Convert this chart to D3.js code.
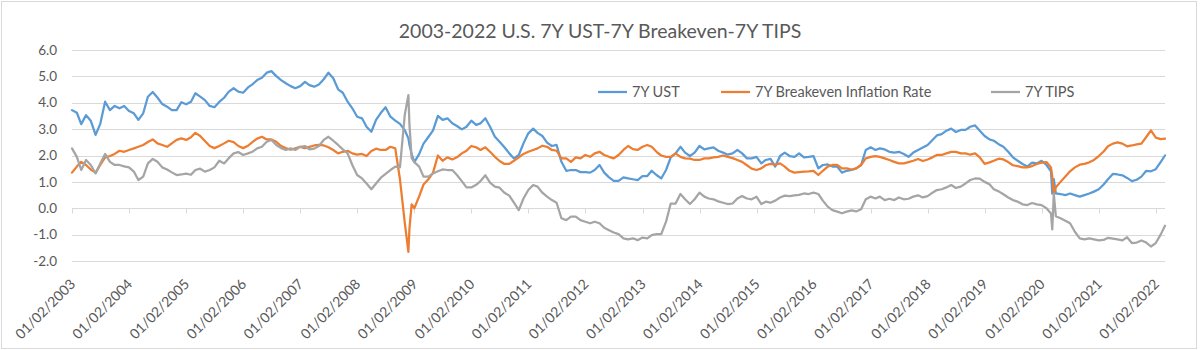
<!DOCTYPE html>
<html><head><meta charset="utf-8">
<script src="https://cdn.jsdelivr.net/npm/d3@7"></script>
<style>
html,body{margin:0;padding:0;background:#fff;}
svg{display:block;font-family:Lato,"Liberation Sans",sans-serif;}
</style></head><body>
<svg id="chart" width="1200" height="350"></svg>
<script>
const chartTitle = "2003-2022 U.S. 7Y UST-7Y Breakeven-7Y TIPS";
const seriesNames = ["7Y UST", "7Y Breakeven Inflation Rate", "7Y TIPS"];
const seriesColors = ["#5B9BD5", "#ED7D31", "#A5A5A5"];
const firstMonth = "2003-01-01";
const lastMonth = "2022-03-01";
const yTicks = [-2, -1, 0, 1, 2, 3, 4, 5, 6];
const xTickLabels = ["01/02/2003","01/02/2004","01/02/2005","01/02/2006","01/02/2007","01/02/2008","01/02/2009","01/02/2010","01/02/2011","01/02/2012","01/02/2013","01/02/2014","01/02/2015","01/02/2016","01/02/2017","01/02/2018","01/02/2019","01/02/2020","01/02/2021","01/02/2022"];

// monthly readings, Jan 2003 .. Mar 2022
const ust = [3.72,3.62,3.19,3.53,3.32,2.78,3.2,4.04,3.72,3.88,
3.79,3.88,3.69,3.60,3.35,3.60,4.23,4.41,4.20,3.95,
3.85,3.72,3.72,4.02,3.94,4.04,4.36,4.23,4.10,3.88,
3.83,4.03,4.19,4.42,4.55,4.42,4.38,4.58,4.70,4.86,
4.95,5.14,5.20,5.01,4.86,4.74,4.63,4.55,4.63,4.79,
4.67,4.61,4.69,4.89,5.14,4.93,4.51,4.38,4.04,3.79,
3.47,3.41,3.09,2.90,3.35,3.62,3.83,3.47,3.32,3.2,
2.96,2.4,1.75,2.05,2.45,2.7,2.95,3.5,3.35,3.41,
3.22,3.12,2.99,3.09,3.32,3.16,3.22,3.41,3.09,2.71,
2.52,2.31,2.08,1.89,2.02,2.46,2.84,3.02,2.86,2.74,
2.49,2.36,2.40,1.76,1.42,1.45,1.45,1.37,1.37,1.35,
1.45,1.64,1.35,1.17,1.04,1.04,1.17,1.13,1.10,1.07,
1.22,1.22,1.42,1.26,1.13,1.45,1.93,2.08,2.33,2.11,
1.98,2.11,2.36,2.23,2.27,2.31,2.18,2.11,2.03,2.08,
2.21,2.08,1.89,1.89,1.95,1.70,1.83,1.87,1.58,1.98,
2.11,1.98,1.95,2.08,1.93,1.95,1.98,1.51,1.64,1.66,
1.58,1.58,1.35,1.42,1.45,1.51,1.64,2.21,2.31,2.21,
2.27,2.23,2.14,2.11,2.14,2.06,1.95,2.11,2.21,2.30,
2.40,2.59,2.76,2.81,2.94,3.02,2.89,2.97,2.97,3.09,
3.14,2.94,2.74,2.61,2.56,2.43,2.33,2.14,1.93,1.80,
1.68,1.58,1.73,1.70,1.80,1.64,1.4,0.56,0.54,0.50,
0.56,0.50,0.44,0.50,0.56,0.63,0.72,0.9,1.1,1.3,
1.28,1.25,1.15,1.03,1.08,1.2,1.42,1.4,1.48,1.75,2.0];

const bei = [1.35,1.58,1.76,1.64,1.47,1.35,1.64,1.93,1.98,2.06,
2.18,2.14,2.21,2.27,2.33,2.40,2.51,2.61,2.46,2.40,
2.33,2.46,2.59,2.65,2.59,2.69,2.86,2.74,2.55,2.36,
2.28,2.36,2.46,2.56,2.51,2.36,2.28,2.37,2.51,2.64,
2.71,2.61,2.61,2.52,2.36,2.28,2.22,2.27,2.33,2.28,
2.33,2.38,2.40,2.38,2.31,2.21,2.08,2.14,2.18,2.08,
2.03,2.06,1.98,2.17,2.26,2.21,2.21,2.33,2.27,1.1,
-0.55,-0.75,0.0,0.45,0.9,1.1,1.35,2.0,1.80,1.93,
1.85,1.93,2.08,2.18,2.36,2.31,2.21,2.31,2.14,1.95,
1.79,1.68,1.68,1.80,1.93,2.06,2.14,2.21,2.27,2.37,
2.33,2.21,2.18,1.89,1.89,1.76,1.93,1.89,2.02,1.95,
2.08,2.14,2.02,1.95,1.89,2.02,2.21,2.36,2.24,2.21,
2.33,2.40,2.33,2.14,2.00,1.95,1.95,2.08,1.95,1.89,
1.88,1.83,1.83,1.89,1.89,1.93,1.95,2.00,1.95,1.90,
1.83,1.76,1.63,1.50,1.45,1.51,1.63,1.68,1.65,1.70,
1.58,1.42,1.35,1.37,1.39,1.40,1.42,1.26,1.42,1.58,
1.64,1.64,1.51,1.51,1.47,1.51,1.64,1.89,1.95,1.98,
1.95,1.89,1.83,1.76,1.70,1.70,1.75,1.80,1.87,1.79,
1.85,1.93,2.02,2.02,2.08,2.14,2.14,2.08,2.08,2.03,
2.08,1.93,1.68,1.74,1.80,1.88,1.85,1.75,1.63,1.60,
1.55,1.55,1.60,1.68,1.73,1.75,1.55,0.8,1.0,1.2,
1.4,1.55,1.65,1.68,1.74,1.83,1.98,2.15,2.35,2.45,
2.5,2.45,2.35,2.38,2.42,2.45,2.7,2.95,2.68,2.62,2.64];

const tips = [2.27,1.95,1.45,1.83,1.64,1.32,1.70,2.06,1.76,1.64,
1.64,1.59,1.55,1.39,1.07,1.20,1.70,1.87,1.76,1.55,
1.47,1.36,1.26,1.28,1.31,1.27,1.45,1.50,1.39,1.45,
1.55,1.80,1.70,1.90,2.08,2.13,2.02,2.08,2.14,2.27,
2.33,2.52,2.59,2.40,2.28,2.21,2.27,2.21,2.33,2.36,
2.23,2.26,2.36,2.59,2.71,2.56,2.40,2.23,2.08,1.64,
1.26,1.13,0.94,0.72,0.94,1.16,1.30,1.45,1.58,1.55,
3.55,3.15,1.75,1.58,1.2,1.2,1.32,1.4,1.47,1.45,
1.45,1.26,1.03,0.79,0.79,0.89,1.03,1.25,0.97,0.82,
0.78,0.59,0.48,0.21,-0.07,0.37,0.69,0.88,0.82,0.59,
0.44,0.31,0.21,-0.38,-0.45,-0.32,-0.32,-0.45,-0.51,-0.57,
-0.51,-0.57,-0.74,-0.83,-0.92,-0.98,-1.14,-1.18,-1.14,-1.21,
-1.11,-1.14,-1.02,-0.98,-0.98,-0.51,0.18,0.18,0.54,0.34,
0.16,0.34,0.59,0.44,0.37,0.34,0.26,0.21,0.16,0.18,
0.37,0.46,0.37,0.34,0.44,0.16,0.25,0.21,0.29,0.41,
0.48,0.46,0.49,0.51,0.56,0.54,0.59,0.54,0.29,0.06,
-0.07,-0.13,-0.19,-0.13,-0.08,-0.12,-0.04,0.34,0.44,0.37,
0.44,0.31,0.36,0.31,0.41,0.34,0.36,0.44,0.49,0.41,
0.46,0.59,0.69,0.72,0.79,0.88,0.77,0.82,0.94,1.07,
1.13,1.12,1.00,0.91,0.72,0.64,0.53,0.41,0.31,0.25,
0.15,0.12,0.2,0.15,0.12,0.0,-0.2,-0.3,-0.38,-0.47,
-0.57,-0.89,-1.14,-1.18,-1.14,-1.18,-1.22,-1.2,-1.12,-1.15,
-1.18,-1.22,-1.1,-1.32,-1.3,-1.22,-1.3,-1.45,-1.32,-1.0,-0.66];

// extra readings at the sharp crisis moves
const eventDates = ["2008-11-24", "2008-12-15", "2020-03-09", "2020-03-19"];
const eventUst  = [2.65, 2.05, 0.55, 1.1];
const eventBei  = [-1.65, 0.15, 1.2, 0.55];
const eventTips = [4.29, 1.9, -0.8, 0.55];

// ---------- build ----------
const parseISO = d3.timeParse("%Y-%m-%d");
const parseTick = d3.timeParse("%m/%d/%Y");
const months = d3.timeMonth.range(parseISO(firstMonth), d3.timeMonth.offset(parseISO(lastMonth), 1));
const eventD = eventDates.map(parseISO);

function buildSeries(monthly, events) {
  const pts = months.map((d, i) => ({date: d, v: monthly[i]}));
  events.forEach((v, i) => pts.push({date: eventD[i], v: v}));
  return pts.sort((a, b) => a.date - b.date);
}
const series = [ust, bei, tips].map((arr, i) =>
  buildSeries(arr, [eventUst, eventBei, eventTips][i]));

const W = 1200, H = 350;
const plot = {left: 72, right: 1165, top: 50, bottom: 261};
const svg = d3.select("#chart");

svg.append("rect").attr("x", 1.5).attr("y", 1.5).attr("width", W - 5).attr("height", H - 3)
  .attr("fill", "#fff").attr("stroke", "#d9d9d9").attr("stroke-width", 1);

const x = d3.scaleTime().domain([months[0], months[months.length - 1]]).range([plot.left, plot.right]);
const y = d3.scaleLinear().domain([d3.min(yTicks), d3.max(yTicks)]).range([plot.bottom, plot.top]);

const textColor = "#595959";
const gridColor = "#d9d9d9";

// gridlines
svg.append("g").selectAll("line").data(yTicks).join("line")
  .attr("x1", plot.left).attr("x2", plot.right)
  .attr("y1", d => Math.round(y(d)) + 0.5).attr("y2", d => Math.round(y(d)) + 0.5)
  .attr("stroke", gridColor).attr("stroke-width", 1);

// y labels
const fmt = d3.format(".1f");
svg.append("g").selectAll("text").data(yTicks).join("text")
  .attr("x", 57).attr("y", d => y(d)).attr("dy", "0.35em")
  .attr("text-anchor", "end").attr("fill", textColor).attr("font-size", 13.5)
  .text(d => fmt(d).replace("\u2212", "-"));

// category axis at zero with ticks
const tickDates = xTickLabels.map(parseTick);
const y0 = Math.round(y(0)) + 0.5;
svg.append("g").selectAll("line").data(tickDates).join("line")
  .attr("x1", d => Math.round(x(d)) + 0.5).attr("x2", d => Math.round(x(d)) + 0.5)
  .attr("y1", y0).attr("y2", y0 + 5)
  .attr("stroke", gridColor).attr("stroke-width", 1);

// x labels
svg.append("g").selectAll("text").data(xTickLabels).join("text")
  .attr("transform", (d, i) => `translate(${x(tickDates[i]) + 4},${285}) rotate(-45)`)
  .attr("text-anchor", "end").attr("fill", textColor).attr("font-size", 14)
  .text(d => d);

// lines
const line = d3.line().x(d => x(d.date)).y(d => y(d.v));
svg.append("g").selectAll("path").data(series).join("path")
  .attr("d", line).attr("fill", "none")
  .attr("stroke", (d, i) => seriesColors[i]).attr("stroke-width", 2.25)
  .attr("stroke-linejoin", "round").attr("stroke-linecap", "round");

// title
svg.append("text").attr("x", 600).attr("y", 38).attr("text-anchor", "middle")
  .attr("fill", textColor).attr("font-size", 19.5).text(chartTitle);

// legend
const legendX = [598, 721, 991];
const lg = svg.append("g").selectAll("g").data(seriesNames).join("g")
  .attr("transform", (d, i) => `translate(${legendX[i]},92)`);
lg.append("line").attr("x1", 0).attr("x2", 29).attr("y1", 0).attr("y2", 0)
  .attr("stroke", (d, i) => seriesColors[i]).attr("stroke-width", 2.25);
lg.append("text").attr("x", 34).attr("dy", "0.35em").attr("fill", textColor)
  .attr("font-size", 14.5).text(d => d);
</script>
</body></html>
